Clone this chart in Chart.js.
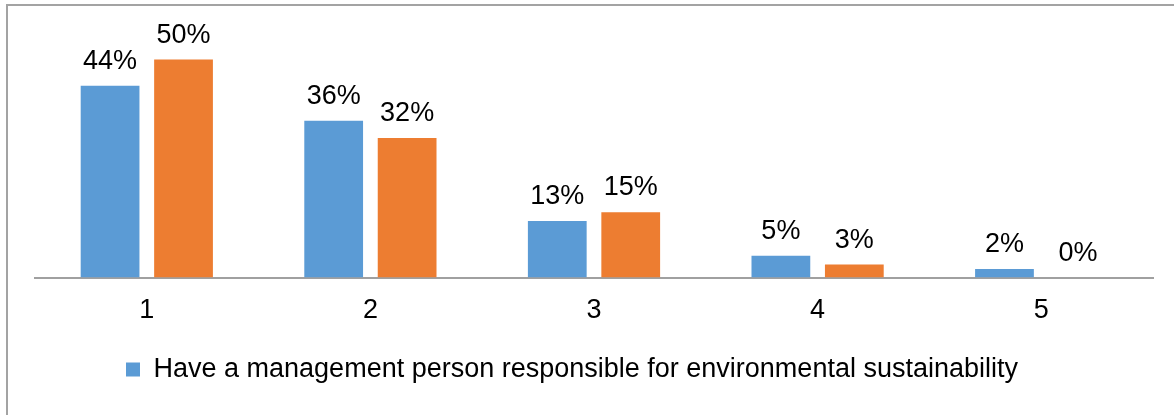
<!DOCTYPE html>
<html>
<head>
<meta charset="utf-8">
<script src="https://cdn.jsdelivr.net/npm/chart.js@4.4.1/dist/chart.umd.min.js"></script>
<style>
  html, body { margin: 0; padding: 0; background: #fff; overflow: hidden; }
  #wrap { position: relative; width: 1174px; height: 415px; }
  #frame {
    position: absolute; left: 6px; top: 4px; width: 1300px; height: 500px;
    border-left: 2px solid #a3a3a3; border-top: 2px solid #a3a3a3;
    pointer-events: none;
  }
  canvas { position: absolute; left: 0; top: 0; }
</style>
</head>
<body>
<div id="wrap">
  <canvas id="survey_chart" width="1174" height="415"></canvas>
  <div id="frame"></div>
</div>
<script>
const categories = ['1', '2', '3', '4', '5'];
const managementPerson = [44, 36, 13, 5, 2];
const otherGroup = [50, 32, 15, 3, 0];
const seriesNames = ['Have a management person responsible for environmental sustainability', ''];

const FONT = '"Liberation Sans", Arial, sans-serif';

// percent labels above each bar
const valueLabels = {
  id: 'valueLabels',
  afterDatasetsDraw(chart) {
    const ctx = chart.ctx;
    ctx.save();
    ctx.font = '27px ' + FONT;
    ctx.fillStyle = '#000';
    ctx.textAlign = 'center';
    ctx.textBaseline = 'alphabetic';
    chart.data.datasets.forEach((ds, i) => {
      chart.getDatasetMeta(i).data.forEach((bar, j) => {
        ctx.fillText(ds.data[j] + '%', bar.x, bar.y - 17);
      });
    });
    ctx.restore();
  }
};

// nudge legend a bit left
const legendShift = {
  id: 'legendShift',
  afterLayout(chart) {
    const lg = chart.legend;
    if (!lg) return;
    lg.left -= 22;
    lg.right -= 22;
    lg.legendHitBoxes.forEach(b => { b.left -= 22; });
  }
};

const ctx = document.getElementById('survey_chart');

new Chart(ctx, {
  type: 'bar',
  data: {
    labels: categories,
    datasets: [{
      label: seriesNames[0],
      data: managementPerson,
      backgroundColor: '#5B9BD5',
      categoryPercentage: 0.657,
      barPercentage: 0.8
    }, {
      label: seriesNames[1],
      data: otherGroup,
      backgroundColor: '#ED7D31',
      categoryPercentage: 0.657,
      barPercentage: 0.8
    }]
  },
  options: {
    responsive: false,
    animation: false,
    layout: {
      padding: { left: 35, right: 21, top: 16, bottom: 22 }
    },
    plugins: {
      legend: {
        position: 'bottom',
        labels: {
          boxWidth: 14,
          boxHeight: 14,
          padding: 20,
          color: '#000',
          font: { family: FONT, size: 27 },
          filter: item => item.datasetIndex === 0
        }
      },
      tooltip: { enabled: false }
    },
    scales: {
      x: {
        grid: { display: false },
        border: { display: true, color: '#a0a0a0', width: 2 },
        ticks: {
          color: '#000',
          padding: 9,
          font: { family: FONT, size: 27 }
        }
      },
      y: {
        display: false,
        min: 0,
        max: 60
      }
    }
  },
  plugins: [valueLabels, legendShift]
});
</script>
</body>
</html>
